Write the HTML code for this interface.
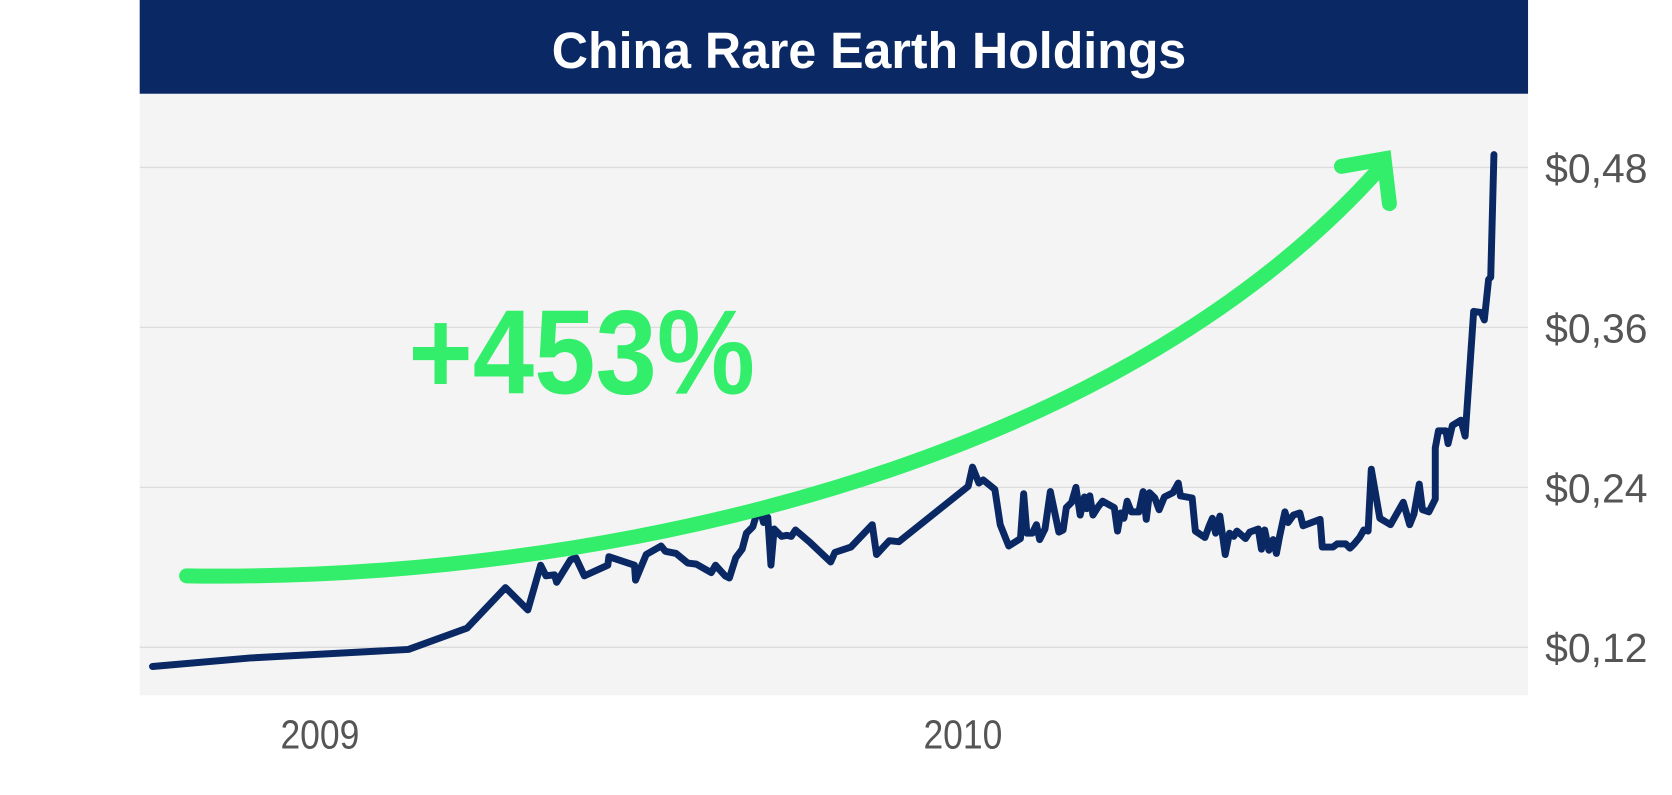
<!DOCTYPE html>
<html><head><meta charset="utf-8"><style>
html,body{margin:0;padding:0;background:#fff;}
svg{display:block;}
text{font-family:"Liberation Sans Narrow","Liberation Sans",sans-serif;}
</style></head><body>
<svg width="1672" height="795" viewBox="0 0 1568 745.5" preserveAspectRatio="none">
<rect x="131" y="0" width="1302" height="88" fill="#0a2864"/>
<rect x="131" y="88" width="1302" height="564" fill="#f4f4f4"/>
<g stroke="#dcdcdc" stroke-width="1.2">
<line x1="131" y1="157" x2="1433" y2="157"/>
<line x1="131" y1="307" x2="1433" y2="307"/>
<line x1="131" y1="457" x2="1433" y2="457"/>
<line x1="131" y1="607" x2="1433" y2="607"/>
</g>
<text x="815" y="64" fill="#fff" font-size="48" font-weight="bold" text-anchor="middle" textLength="595" lengthAdjust="spacingAndGlyphs">China Rare Earth Holdings</text>
<g fill="#555" font-size="38">
<text x="1449" y="171" textLength="96" lengthAdjust="spacingAndGlyphs">$0,48</text>
<text x="1449" y="321" textLength="96" lengthAdjust="spacingAndGlyphs">$0,36</text>
<text x="1449" y="471" textLength="96" lengthAdjust="spacingAndGlyphs">$0,24</text>
<text x="1449" y="621" textLength="96" lengthAdjust="spacingAndGlyphs">$0,12</text>
<text x="300" y="702" text-anchor="middle" textLength="74" lengthAdjust="spacingAndGlyphs">2009</text>
<text x="903" y="702" text-anchor="middle" textLength="74" lengthAdjust="spacingAndGlyphs">2010</text>
</g>
<polyline fill="none" stroke="#0a2864" stroke-width="6.5" stroke-linejoin="round" stroke-linecap="round" points="143,625 235,617 383,609 438,589 474,551 495,572 507,530 512,540 520,539 522,546 535,525 540,523 548,540 570,530 571,522 595,530 596,544 606,520 620,512 624,517 634,519 645,528 653,529 667,537 671,530 680,540 684,542 690,523 696,515 700,500 706,494 712,474 716,490 720,485 723,530 726,496 733,503 738,502 742,503 746,497 753,503 760,509 779,527 783,518 798,513 818,492 822,520 834,507 843,508 908,456 912,438 918,453 922,450 933,459 938,492 946,512 957,505 960,463 963,500 968,500 972,492 975,506 980,496 985,461 993,499 997,497 1000,476 1005,471 1009,457 1013,483 1017,466 1019,477 1022,465 1025,483 1030,475 1034,470 1045,476 1048,498 1051,481 1054,486 1057,470 1061,480 1068,480 1072,461 1075,487 1078,462 1083,467 1087,478 1092,466 1100,462 1105,453 1107,465 1118,467 1121,498 1130,504 1134,493 1137,486 1140,500 1144,484 1149,520 1153,500 1157,503 1160,498 1168,505 1172,499 1180,496 1183,515 1186,497 1190,516 1194,506 1197,519 1200,503 1205,480 1208,490 1213,483 1219,481 1222,493 1238,487 1240,513 1250,513 1254,510 1262,510 1266,514 1270,510 1275,504 1279,497 1283,498 1286,440 1294,486 1304,492 1316,471 1322,492 1326,482 1331,454 1334,478 1340,480 1346,468 1346,420 1349,404 1356,404 1358,416 1362,399 1370,394 1374,409 1382,292 1389,293 1392,300 1396,262 1398,260 1401,145"/>
<path d="M175,540 C560,546 1040,440 1292,160" fill="none" stroke="#33ee6b" stroke-width="14" stroke-linecap="round"/>
<polyline points="1258,156 1298,149 1303,191" fill="none" stroke="#33ee6b" stroke-width="14" stroke-linecap="round" stroke-linejoin="miter"/>
<text x="383" y="369" fill="#33ee6b" font-size="112" font-weight="bold" textLength="325" lengthAdjust="spacingAndGlyphs">+453%</text>
</svg>
</body></html>
